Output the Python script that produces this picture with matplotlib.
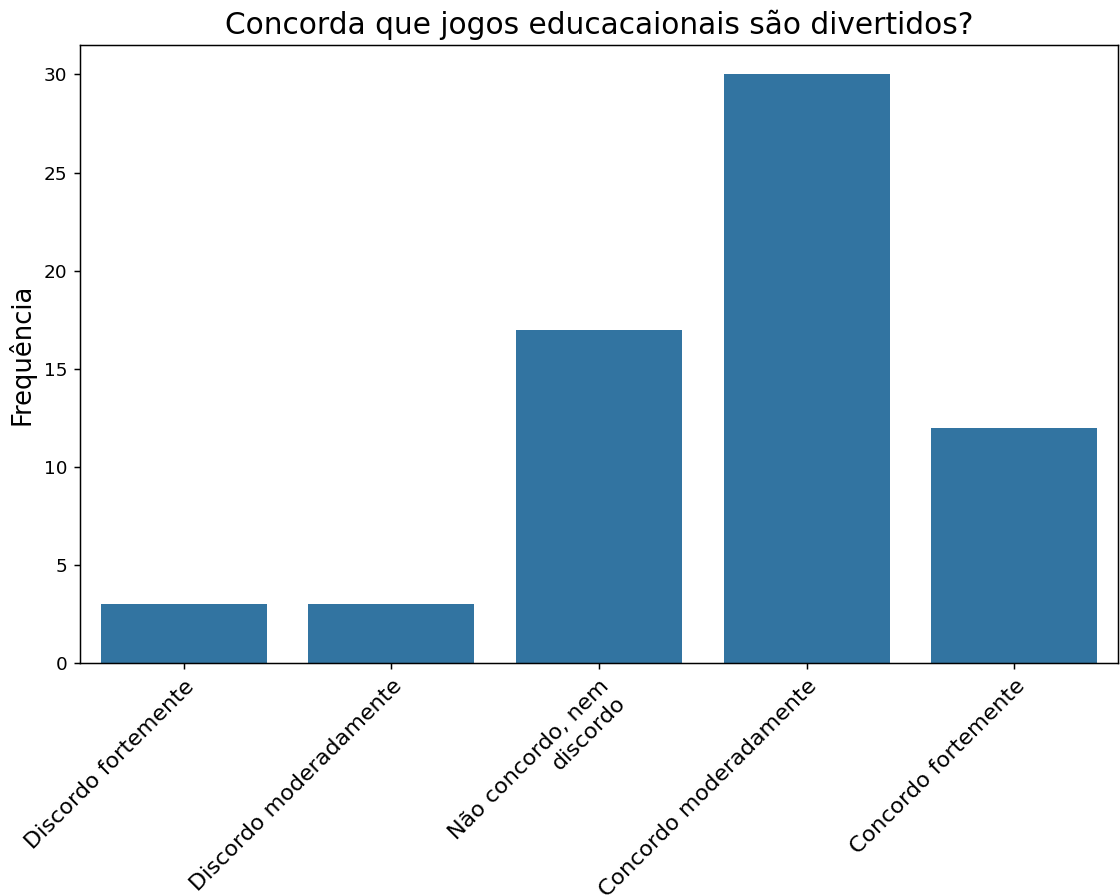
import matplotlib
matplotlib.use("Agg")
import matplotlib.pyplot as plt

categorias = [
    "Discordo fortemente",
    "Discordo moderadamente",
    "Não concordo, nem\ndiscordo",
    "Concordo moderadamente",
    "Concordo fortemente",
]
frequencias = [3, 3, 17, 30, 12]

DPI = 133.33
fig = plt.figure(figsize=(1120 / DPI, 896 / DPI), dpi=DPI)
ax = fig.add_axes([0.0714, 0.26, 0.927, 0.6897])

x = range(len(categorias))
ax.bar(x, frequencias, width=0.8, color="#3274a1")
ax.set_xlim(-0.5, len(categorias) - 0.5)
ax.set_ylim(0, max(frequencias) * 1.05)
ax.set_xticks(list(x))
ax.set_xticklabels(categorias, rotation=45, ha="right", rotation_mode="anchor",
                   fontsize=12)
ax.tick_params(axis="y", labelsize=10)
ax.set_ylabel("Frequência", fontsize=14)
ax.set_title("Concorda que jogos educacaionais são divertidos?", fontsize=16)

fig.savefig("out.png", dpi=DPI)
